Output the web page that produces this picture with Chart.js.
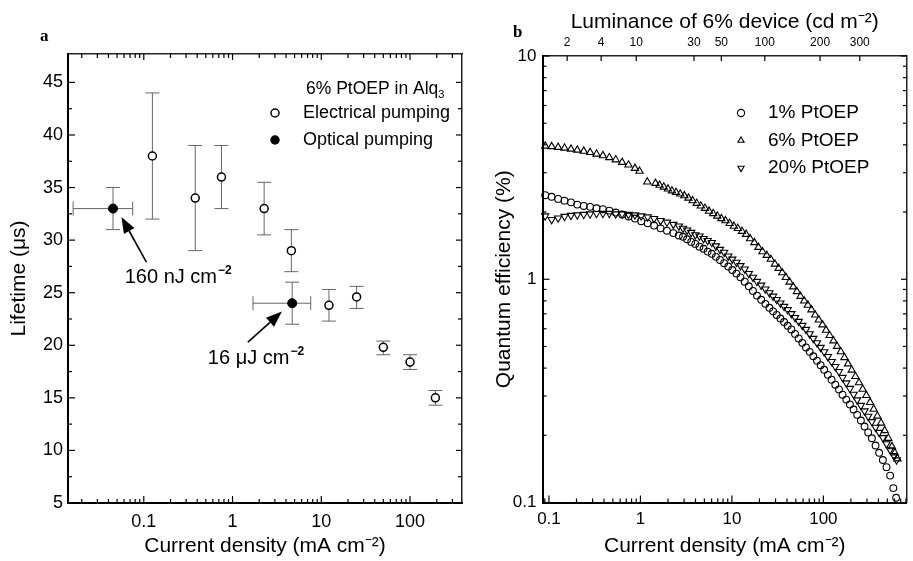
<!DOCTYPE html>
<html>
<head>
<meta charset="utf-8">
<script src="https://cdn.jsdelivr.net/npm/chart.js@4.4.1/dist/chart.umd.min.js"></script>
<style>
    html, body { margin: 0; padding: 0; background: #fff; }
    #wrap { position: relative; width: 913px; height: 561px; overflow: hidden; }
    canvas { position: absolute; top: 0; }
    #chartA { left: 0; width: 470px; height: 561px; }
    #chartB { left: 470px; width: 443px; height: 561px; }
</style>
</head>
<body>
<div id="wrap">
    <canvas id="chartA" width="470" height="561"></canvas>
    <canvas id="chartB" width="443" height="561"></canvas>
</div>
<script>
// ---- Panel a: lifetime vs current density ----
const elecJ    = [0.125, 0.38, 0.75, 2.27, 4.6, 12.2, 25, 50, 100, 193];
const elecLife = [38, 34, 36, 33, 29, 23.8, 24.6, 19.8, 18.4, 15.0];
const elecLow  = [32, 29, 33, 30.5, 27, 22.3, 23.5, 19.1, 17.7, 14.3];
const elecHigh = [44, 39, 39, 35.5, 31, 25.3, 25.6, 20.4, 19.1, 15.7];

const optJ     = [0.045, 4.7];
const optLife  = [33, 24];
const optLow   = [31, 22];
const optHigh  = [35, 26];
const optJLow  = [0.016, 1.7];
const optJHigh = [0.075, 7.6];

const seriesNamesA = ['Electrical pumping', 'Optical pumping'];
const xTickLabelsA = [0.1, 1, 10, 100];
const yTickLabelsA = [5, 10, 15, 20, 25, 30, 35, 40, 45];

// ---- Panel b: quantum efficiency vs current density ----
const eff1J = [0.091, 0.107, 0.126, 0.148, 0.174, 0.204, 0.240, 0.282, 0.331, 0.389, 0.457, 0.537, 0.631, 0.741, 0.871, 1.02, 1.20, 1.41, 1.66, 1.95, 2.29, 2.63,
    2.92, 3.24, 3.59, 3.98, 4.42, 4.90, 5.43, 6.03, 6.68, 7.41, 8.22, 9.12, 10.1, 11.2, 12.4, 13.8, 15.3, 17.0, 18.8, 20.9, 23.2, 25.7,
    28.2, 30.9, 33.9, 37.2, 40.7, 44.7, 49.0, 53.7, 58.9, 64.6, 70.8, 77.6, 85.1, 93.3,
    102, 112, 123, 135, 148, 162, 178, 195, 214, 234, 257, 282, 309, 339, 372, 407, 447, 490, 537, 582, 624];
const eff1QE = [2.38, 2.34, 2.29, 2.25, 2.21, 2.16, 2.13, 2.11, 2.08, 2.06, 2.03, 1.99, 1.95, 1.91, 1.87, 1.82, 1.78, 1.74, 1.69, 1.65, 1.61, 1.57,
    1.55, 1.51, 1.47, 1.44, 1.40, 1.37, 1.33, 1.30, 1.26, 1.22, 1.18, 1.14, 1.10, 1.06, 1.02, 0.975, 0.93, 0.887, 0.845, 0.809, 0.776, 0.745,
    0.718, 0.692, 0.667, 0.643, 0.619, 0.596, 0.569, 0.543, 0.519, 0.495, 0.473, 0.452, 0.432, 0.412,
    0.393, 0.373, 0.355, 0.337, 0.321, 0.304, 0.289, 0.275, 0.261, 0.247, 0.233, 0.219, 0.206, 0.194, 0.180, 0.167, 0.155, 0.144, 0.132, 0.116, 0.105];

const eff6J = [0.091, 0.107, 0.126, 0.148, 0.174, 0.204, 0.240, 0.282, 0.331, 0.389, 0.457, 0.537, 0.631, 0.741, 0.871, 0.977,
    1.19, 1.46, 1.62, 1.80, 2.00, 2.21, 2.45, 2.72, 3.02, 3.35, 3.72, 4.12, 4.57, 5.07, 5.62, 6.24, 6.92, 7.67, 8.51, 9.44, 10.5, 11.6, 12.9, 14.3, 15.8, 17.6, 19.5, 21.6, 24.0, 26.6,
    29.5, 32.4, 35.5, 38.9, 42.7, 46.8, 51.3, 56.2, 61.7, 67.6, 74.1, 81.3, 89.1, 97.7, 107, 117, 129, 141, 155, 170, 186, 204, 224, 245, 269, 295, 324, 355, 389, 427, 468, 513, 562, 603, 646];
const eff6QE = [3.95, 3.93, 3.90, 3.87, 3.83, 3.79, 3.75, 3.70, 3.64, 3.58, 3.51, 3.43, 3.34, 3.25, 3.14, 3.05,
    2.73, 2.69, 2.64, 2.59, 2.54, 2.49, 2.45, 2.41, 2.37, 2.31, 2.25, 2.19, 2.13, 2.08, 2.02, 1.97, 1.92, 1.87, 1.83, 1.78, 1.73, 1.69, 1.64, 1.59, 1.52, 1.46, 1.39, 1.33, 1.28, 1.23,
    1.17, 1.12, 1.07, 1.02, 0.972, 0.925, 0.881, 0.839, 0.800, 0.766, 0.730, 0.692, 0.658, 0.625, 0.592, 0.560, 0.530, 0.501, 0.474, 0.446, 0.418, 0.392, 0.367, 0.344, 0.322, 0.302, 0.281, 0.262, 0.244, 0.227, 0.210, 0.194, 0.178, 0.167, 0.157];

const eff20J = [0.091, 0.107, 0.126, 0.148, 0.174, 0.204, 0.240, 0.282, 0.331, 0.389, 0.457, 0.537, 0.631, 0.741, 0.871, 1.02, 1.20, 1.41, 1.66, 1.95, 2.29, 2.63,
    2.92, 3.24, 3.59, 3.98, 4.42, 4.90, 5.43, 6.03, 6.68, 7.41, 8.22, 9.12, 10.1, 11.2, 12.4, 13.8, 15.3, 17.0, 18.8, 20.9, 23.2, 25.7,
    28.2, 30.9, 33.9, 37.2, 40.7, 44.7, 49.0, 53.7, 58.9, 64.6, 70.8, 77.6, 85.1, 93.3,
    102, 112, 123, 135, 148, 162, 178, 195, 214, 234, 257, 282, 309, 339, 372, 407, 447, 490, 537, 589, 631];
const eff20QE = [1.92, 1.85, 1.88, 1.91, 1.93, 1.94, 1.95, 1.96, 1.97, 1.97, 1.97, 1.96, 1.96, 1.95, 1.94, 1.92, 1.90, 1.87, 1.83, 1.80, 1.76, 1.73,
    1.69, 1.66, 1.62, 1.58, 1.56, 1.52, 1.49, 1.46, 1.41, 1.36, 1.32, 1.27, 1.23, 1.19, 1.15, 1.11, 1.06, 1.02, 0.977, 0.940, 0.904, 0.869,
    0.839, 0.811, 0.782, 0.755, 0.730, 0.701, 0.673, 0.647, 0.621, 0.596, 0.569, 0.543, 0.519, 0.495,
    0.473, 0.450, 0.428, 0.406, 0.386, 0.363, 0.343, 0.324, 0.305, 0.288, 0.272, 0.257, 0.243, 0.230, 0.217, 0.206, 0.195, 0.183, 0.172, 0.162, 0.155];

const seriesNamesB = ['1% PtOEP', '6% PtOEP', '20% PtOEP'];
const xTickLabelsB = [0.1, 1, 10, 100];
const yTickLabelsB = [0.1, 1, 10];
// luminance of the 6% device, and the current density where each one falls
const lumTickLabels = [2, 4, 10, 30, 50, 100, 200, 300];
const lumTickCurrent = [0.158, 0.372, 0.90, 3.85, 7.66, 22.9, 92, 250];

const FONT = "'Liberation Sans', Arial, Helvetica, sans-serif";
Chart.defaults.font.family = FONT;
Chart.defaults.color = '#000';

function toXY(xs, ys) {
    return xs.map((x, i) => ({ x: x, y: ys[i] }));
}

// 1..9 x 10^n tick values between min and max
function decadeValues(min, max) {
    const out = [];
    for (let e = Math.floor(Math.log10(min)); e <= Math.ceil(Math.log10(max)); e++) {
        for (let m = 1; m <= 9; m++) {
            const v = +(m * Math.pow(10, e)).toPrecision(3);
            if (v >= min && v <= max) out.push(v);
        }
    }
    return out;
}

// each scale gets its own tick objects (labels are written onto them)
const setTicks = vals => s => { s.ticks = vals.map(v => ({ value: v })); };

// tick marks drawn inside the frame, long for labelled ticks
function inwardTicks(conf) {
    return {
        id: 'inwardTicks',
        afterDraw(chart) {
            const ctx = chart.ctx, a = chart.chartArea;
            ctx.save();
            ctx.strokeStyle = '#000';
            ctx.lineWidth = 1.2;
            for (const id in conf) {
                const s = chart.scales[id];
                if (!s) continue;
                const c = conf[id];
                s.ticks.forEach(t => {
                    const p = s.getPixelForValue(t.value);
                    const big = c.majors.some(m => Math.abs(m - t.value) < 1e-6 * m);
                    const len = big ? c.major : c.minor;
                    ctx.beginPath();
                    if (s.position === 'bottom') { ctx.moveTo(p, a.bottom); ctx.lineTo(p, a.bottom - len); }
                    else if (s.position === 'top') { ctx.moveTo(p, a.top); ctx.lineTo(p, a.top + len); }
                    else if (s.position === 'left') { ctx.moveTo(a.left, p); ctx.lineTo(a.left + len, p); }
                    else { ctx.moveTo(a.right, p); ctx.lineTo(a.right - len, p); }
                    ctx.stroke();
                });
            }
            ctx.restore();
        }
    };
}

function arrow(ctx, x1, y1, x2, y2) {
    const ang = Math.atan2(y2 - y1, x2 - x1);
    const head = 16, wid = 6;
    const bx = x2 - head * Math.cos(ang), by = y2 - head * Math.sin(ang);
    ctx.beginPath();
    ctx.moveTo(x1, y1);
    ctx.lineTo(bx, by);
    ctx.stroke();
    ctx.beginPath();
    ctx.moveTo(x2, y2);
    ctx.lineTo(bx + wid * Math.sin(ang), by - wid * Math.cos(ang));
    ctx.lineTo(bx - wid * Math.sin(ang), by + wid * Math.cos(ang));
    ctx.closePath();
    ctx.fill();
}

// text followed by a raised small part
function richText(ctx, x, y, base, small, size, raise) {
    ctx.font = size + 'px ' + FONT;
    ctx.textAlign = 'left';
    ctx.textBaseline = 'middle';
    ctx.fillText(base, x, y);
    const w = ctx.measureText(base).width;
    ctx.font = 'bold ' + Math.round(size * 0.6) + 'px ' + FONT;
    ctx.fillText(small, x + w + 1, y + raise);
}

function marker(ctx, style, x, y, r, fill, down) {
    ctx.beginPath();
    if (style === 'circle') {
        ctx.arc(x, y, r, 0, Math.PI * 2);
    } else {
        const s = down ? -1 : 1;
        ctx.moveTo(x, y - s * r);
        ctx.lineTo(x + r * 0.866, y + s * r * 0.5);
        ctx.lineTo(x - r * 0.866, y + s * r * 0.5);
        ctx.closePath();
    }
    if (fill) { ctx.fillStyle = fill; ctx.fill(); }
    ctx.stroke();
}

// ---------------- Panel a ----------------
const CAP = 7;
const arrowsA = [
    { from: [0.107, 27.9], to: [0.056, 32.2] },
    { from: [1.49, 20.3], to: [3.6, 23.2] }
];
const notesA = [
    { at: [0.061, 26.4], text: '160 nJ cm', sup: '\u22122' },
    { at: [0.527, 18.7], text: '16 \u03bcJ cm', sup: '\u22122' }
];

const extrasA = {
    id: 'extrasA',
    beforeDatasetsDraw(chart) {
        const { ctx, scales: { x, y } } = chart;
        ctx.save();
        ctx.strokeStyle = '#666';
        ctx.lineWidth = 1;
        const vbar = (xv, lo, hi) => {
            const px = x.getPixelForValue(xv), p1 = y.getPixelForValue(lo), p2 = y.getPixelForValue(hi);
            ctx.beginPath();
            ctx.moveTo(px, p1); ctx.lineTo(px, p2);
            ctx.moveTo(px - CAP, p1); ctx.lineTo(px + CAP, p1);
            ctx.moveTo(px - CAP, p2); ctx.lineTo(px + CAP, p2);
            ctx.stroke();
        };
        elecJ.forEach((j, i) => vbar(j, elecLow[i], elecHigh[i]));
        optJ.forEach((j, i) => {
            vbar(j, optLow[i], optHigh[i]);
            const py = y.getPixelForValue(optLife[i]);
            const p1 = x.getPixelForValue(optJLow[i]), p2 = x.getPixelForValue(optJHigh[i]);
            ctx.beginPath();
            ctx.moveTo(p1, py); ctx.lineTo(p2, py);
            ctx.moveTo(p1, py - CAP); ctx.lineTo(p1, py + CAP);
            ctx.moveTo(p2, py - CAP); ctx.lineTo(p2, py + CAP);
            ctx.stroke();
        });
        ctx.restore();
    },
    afterDraw(chart) {
        const { ctx, scales: { x, y } } = chart;
        ctx.save();
        ctx.strokeStyle = '#000';
        ctx.fillStyle = '#000';
        ctx.lineWidth = 1.6;
        arrowsA.forEach(a => arrow(ctx,
            x.getPixelForValue(a.from[0]), y.getPixelForValue(a.from[1]),
            x.getPixelForValue(a.to[0]), y.getPixelForValue(a.to[1])));
        notesA.forEach(n => richText(ctx, x.getPixelForValue(n.at[0]), y.getPixelForValue(n.at[1]), n.text, n.sup, 20, -7));

        // legend
        ctx.fillStyle = '#000';
        ctx.font = '17.5px ' + FONT;
        ctx.textBaseline = 'middle';
        ctx.fillText('6% PtOEP in Alq', 306, 89);
        const w = ctx.measureText('6% PtOEP in Alq').width;
        ctx.font = '11px ' + FONT;
        ctx.fillText('3', 306 + w, 95);
        ctx.lineWidth = 1.5;
        chart.data.datasets.forEach((ds, i) => {
            const ly = 113 + i * 27;
            marker(ctx, 'circle', 275, ly, 4, ds.pointBackgroundColor, false);
            ctx.fillStyle = '#000';
            ctx.font = '18px ' + FONT;
            ctx.fillText(ds.label, 303, ly);
        });

        ctx.font = 'bold 17px "Liberation Serif", "DejaVu Serif", serif';
        ctx.fillText('a', 40, 37);
        ctx.restore();
    }
};

const xValsA = decadeValues(0.014, 385);
const yValsA = [];
for (let v = 5; v <= 45; v += 2.5) yValsA.push(v);

new Chart(document.getElementById('chartA'), {
    type: 'scatter',
    data: {
        datasets: [
            {
                label: seriesNamesA[0],
                data: toXY(elecJ, elecLife),
                pointStyle: 'circle',
                pointRadius: 4,
                pointBorderWidth: 1.5,
                pointBorderColor: '#000',
                pointBackgroundColor: '#fff',
                xAxisID: 'x', yAxisID: 'y'
            },
            {
                label: seriesNamesA[1],
                data: toXY(optJ, optLife),
                pointStyle: 'circle',
                pointRadius: 4.5,
                pointBorderWidth: 1,
                pointBorderColor: '#000',
                pointBackgroundColor: '#000',
                xAxisID: 'x', yAxisID: 'y'
            }
        ]
    },
    options: {
        responsive: false,
        animation: false,
        events: [],
        layout: { padding: { left: 0, right: 8, top: 54, bottom: 0 } },
        plugins: { legend: { display: false }, tooltip: { enabled: false } },
        scales: {
            x: {
                type: 'logarithmic', position: 'bottom', axis: 'x', min: 0.014, max: 385,
                afterBuildTicks: setTicks(xValsA),
                afterFit: s => { s.height = 58; },
                ticks: { autoSkip: false, maxRotation: 0, padding: 8, font: { size: 18 },
                    callback: v => xTickLabelsA.includes(v) ? String(v) : '' },
                grid: { drawOnChartArea: false, drawTicks: false },
                border: { display: true, color: '#000', width: 2 },
                title: { display: true, text: 'Current density (mA cm\u207b\u00b2)', font: { size: 21 }, padding: { top: 0, bottom: 2 } }
            },
            x2: {
                type: 'logarithmic', position: 'top', axis: 'x', min: 0.014, max: 385,
                afterBuildTicks: setTicks(xValsA),
                afterFit: s => { s.height = 0; },
                ticks: { display: false, callback: () => '' },
                grid: { drawOnChartArea: false, drawTicks: false },
                border: { display: true, color: '#222', width: 1.5 }
            },
            y: {
                type: 'linear', position: 'left', axis: 'y', min: 5, max: 47.7,
                afterBuildTicks: setTicks(yValsA),
                afterFit: s => { s.width = 68; },
                ticks: { autoSkip: false, padding: 5, font: { size: 18 },
                    callback: v => yTickLabelsA.includes(v) ? String(v) : '' },
                grid: { drawOnChartArea: false, drawTicks: false },
                border: { display: true, color: '#000', width: 2 },
                title: { display: true, text: 'Lifetime (\u03bcs)', font: { size: 21 }, padding: { top: 7, bottom: 0 } }
            },
            y2: {
                type: 'linear', position: 'right', axis: 'y', min: 5, max: 47.7,
                afterBuildTicks: setTicks(yValsA),
                afterFit: s => { s.width = 0; },
                ticks: { display: false, callback: () => '' },
                grid: { drawOnChartArea: false, drawTicks: false },
                border: { display: true, color: '#222', width: 1.5 }
            }
        }
    },
    plugins: [extrasA, inwardTicks({
        x: { majors: xTickLabelsA, major: 7, minor: 4 },
        x2: { majors: xTickLabelsA, major: 6, minor: 4 },
        y: { majors: yTickLabelsA, major: 7, minor: 4 },
        y2: { majors: yTickLabelsA, major: 6, minor: 4 }
    })]
});

// ---------------- Panel b ----------------
const extrasB = {
    id: 'extrasB',
    afterDraw(chart) {
        const ctx = chart.ctx;
        ctx.save();
        ctx.strokeStyle = '#000';
        ctx.lineWidth = 1.1;
        ctx.textBaseline = 'middle';
        ctx.textAlign = 'left';
        const ys = [113, 140.5, 168];
        chart.data.datasets.forEach((ds, i) => {
            marker(ctx, ds.pointStyle, 271, ys[i], 3.6, null, ds.pointRotation === 180);
            ctx.fillStyle = '#000';
            ctx.font = '19px ' + FONT;
            ctx.fillText(ds.label, 298, ys[i]);
        });
        ctx.font = 'bold 17px "Liberation Serif", "DejaVu Serif", serif';
        ctx.fillText('b', 43, 33);
        ctx.restore();
    }
};

const xValsB = decadeValues(0.085, 820);
const yValsB = decadeValues(0.1, 10);
const hollow = 'rgba(0,0,0,0)';

new Chart(document.getElementById('chartB'), {
    type: 'scatter',
    data: {
        datasets: [
            {
                label: seriesNamesB[0], data: toXY(eff1J, eff1QE),
                pointStyle: 'circle', pointRadius: 3.4, pointRotation: 0,
                pointBorderWidth: 1.1, pointBorderColor: '#000', pointBackgroundColor: hollow,
                clip: false, xAxisID: 'x', yAxisID: 'y'
            },
            {
                label: seriesNamesB[1], data: toXY(eff6J, eff6QE),
                pointStyle: 'triangle', pointRadius: 4.2, pointRotation: 0,
                pointBorderWidth: 1.1, pointBorderColor: '#000', pointBackgroundColor: hollow,
                clip: false, xAxisID: 'x', yAxisID: 'y'
            },
            {
                label: seriesNamesB[2], data: toXY(eff20J, eff20QE),
                pointStyle: 'triangle', pointRadius: 4.2, pointRotation: 180,
                pointBorderWidth: 1.1, pointBorderColor: '#000', pointBackgroundColor: hollow,
                clip: false, xAxisID: 'x', yAxisID: 'y'
            }
        ]
    },
    options: {
        responsive: false,
        animation: false,
        events: [],
        layout: { padding: { left: 0, right: 2, top: 0, bottom: 0 } },
        plugins: { legend: { display: false }, tooltip: { enabled: false } },
        scales: {
            x: {
                type: 'logarithmic', position: 'bottom', axis: 'x', min: 0.085, max: 820,
                afterBuildTicks: setTicks(xValsB),
                afterFit: s => { s.height = 58.5; },
                ticks: { autoSkip: false, maxRotation: 0, padding: 7, font: { size: 17 },
                    callback: v => xTickLabelsB.includes(v) ? String(v) : '' },
                grid: { drawOnChartArea: false, drawTicks: false },
                border: { display: true, color: '#000', width: 2 },
                title: { display: true, text: 'Current density (mA cm\u207b\u00b2)', font: { size: 21 }, padding: { top: 0, bottom: 2 } }
            },
            x2: {
                type: 'logarithmic', position: 'top', axis: 'x', min: 0.085, max: 820,
                afterBuildTicks: setTicks(lumTickCurrent),
                afterFit: s => { s.height = 56; },
                ticks: { autoSkip: false, maxRotation: 0, padding: 6, font: { size: 12 },
                    callback: (v, i) => String(lumTickLabels[i]) },
                grid: { drawOnChartArea: false, drawTicks: false },
                border: { display: true, color: '#222', width: 1.5 },
                title: { display: true, text: 'Luminance of 6% device (cd m\u207b\u00b2)', font: { size: 21 }, padding: { top: 10, bottom: 0 } }
            },
            y: {
                type: 'logarithmic', position: 'left', axis: 'y', min: 0.1, max: 10,
                afterBuildTicks: setTicks(yValsB),
                afterFit: s => { s.width = 72.5; },
                ticks: { autoSkip: false, padding: 6, font: { size: 17 },
                    callback: v => yTickLabelsB.includes(v) ? String(v) : '' },
                grid: { drawOnChartArea: false, drawTicks: false },
                border: { display: true, color: '#000', width: 2 },
                title: { display: true, text: 'Quantum efficiency (%)', font: { size: 21 }, padding: { top: 22, bottom: 0 } }
            },
            y2: {
                type: 'logarithmic', position: 'right', axis: 'y', min: 0.1, max: 10,
                afterBuildTicks: setTicks(yValsB),
                afterFit: s => { s.width = 0; },
                ticks: { display: false, callback: () => '' },
                grid: { drawOnChartArea: false, drawTicks: false },
                border: { display: true, color: '#222', width: 1.5 }
            }
        }
    },
    plugins: [extrasB, inwardTicks({
        x: { majors: xTickLabelsB, major: 7, minor: 4 },
        x2: { majors: lumTickCurrent, major: 5, minor: 5 },
        y: { majors: yTickLabelsB, major: 7, minor: 4 },
        y2: { majors: yTickLabelsB, major: 6, minor: 4 }
    })]
});
</script>
</body>
</html>
